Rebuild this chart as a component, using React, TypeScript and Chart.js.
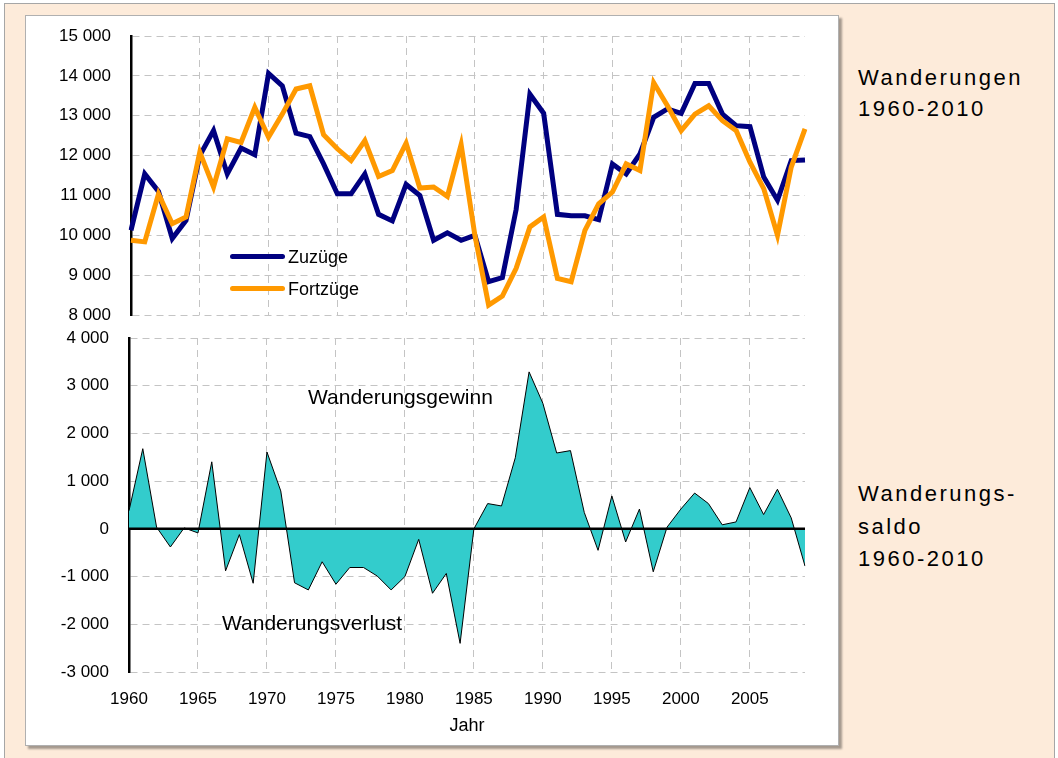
import React, { useEffect, useRef } from "react";
import { Chart, registerables } from "chart.js";

Chart.register(...registerables);

const years = [
  1960, 1961, 1962, 1963, 1964, 1965, 1966, 1967, 1968, 1969,
  1970, 1971, 1972, 1973, 1974, 1975, 1976, 1977, 1978, 1979,
  1980, 1981, 1982, 1983, 1984, 1985, 1986, 1987, 1988, 1989,
  1990, 1991, 1992, 1993, 1994, 1995, 1996, 1997, 1998, 1999,
  2000, 2001, 2002, 2003, 2004, 2005, 2006, 2007, 2008, 2009,
];

const zuzuege = [
  10125, 11540, 11100, 9920, 10375, 12000, 12625, 11540, 12190, 12020,
  14060, 13750, 12560, 12475, 11790, 11040, 11040, 11540, 10525, 10360,
  11275, 11000, 9875, 10060, 9875, 10000, 8835, 8940, 10650, 13540,
  13060, 10525, 10490, 10490, 10390, 11790, 11540, 12040, 12960, 13170,
  13060, 13810, 13810, 13040, 12750, 12725, 11460, 10880, 11875, 11890,
];

const fortzuege = [
  9875, 9835, 11040, 10290, 10460, 12085, 11210, 12420, 12330, 13210,
  12460, 13040, 13670, 13750, 12525, 12170, 11875, 12375, 11475, 11625,
  12310, 11185, 11210, 10975, 12275, 10000, 8250, 8475, 9170, 10210,
  10460, 8920, 8835, 10125, 10790, 11085, 11790, 11625, 13830, 13250,
  12625, 13040, 13250, 12875, 12625, 11835, 11170, 10000, 11710, 12670,
];

const saldo = [
  380, 1680, 35, -380, 20, -85, 1405, -880, -120, -1140,
  1610, 795, -1130, -1280, -690, -1160, -810, -810, -990, -1280,
  -1000, -220, -1350, -935, -2400, 0, 530, 480, 1490, 3290,
  2630, 1590, 1640, 345, -450, 690, -275, 415, -900, 35,
  415, 750, 530, 85, 145, 865, 300, 830, 230, -780,
];

const topTicks = { min: 8000, max: 15000, step: 1000 };
const bottomTicks = { min: -3000, max: 4000, step: 1000 };

const FONT = "'Liberation Sans', Arial, Helvetica, sans-serif";
const GRID = "#c4c4c4";
const DASH = [7, 5];
const CLEAR = "rgba(0,0,0,0)";

const fmt = (v: number) => {
  const s = Math.abs(v).toString().replace(/\B(?=(\d{3})+(?!\d))/g, " ");
  return (v < 0 ? "-" : "") + s;
};

const xGridColor = (ctx: any) =>
  years[ctx.index] !== undefined && years[ctx.index] % 5 === 0 && ctx.index !== 0 ? GRID : CLEAR;

const zeroLine = {
  id: "zeroLine",
  afterDatasetsDraw(chart: any) {
    const { ctx, chartArea, scales } = chart;
    const y = scales.y.getPixelForValue(0);
    ctx.save();
    ctx.strokeStyle = "#000";
    ctx.lineWidth = 2.5;
    ctx.beginPath();
    ctx.moveTo(chartArea.left, y);
    ctx.lineTo(chartArea.right, y);
    ctx.stroke();
    ctx.restore();
  },
};

function TopChart() {
  const ref = useRef<HTMLCanvasElement>(null);
  useEffect(() => {
    const chart = new Chart(ref.current!, {
      type: "line",
      data: {
        labels: years,
        datasets: [
          {
            label: "Zuzüge",
            data: zuzuege,
            borderColor: "#000080",
            borderWidth: 5,
            pointRadius: 0,
            pointHoverRadius: 0,
            fill: false,
            tension: 0,
            order: 2,
          },
          {
            label: "Fortzüge",
            data: fortzuege,
            borderColor: "#FF9900",
            borderWidth: 5,
            pointRadius: 0,
            pointHoverRadius: 0,
            fill: false,
            tension: 0,
            order: 1,
          },
        ],
      },
      options: {
        animation: false,
        responsive: false,
        events: [],
        layout: { padding: { top: 16, bottom: 15, right: 15, left: 0 } },
        plugins: { legend: { display: false }, tooltip: { enabled: false } },
        scales: {
          x: {
            type: "category",
            ticks: { display: false, autoSkip: false, padding: 0 },
            grid: { color: xGridColor, drawTicks: false, lineWidth: 1 },
            border: { display: false, dash: DASH },
            afterFit: (s: any) => {
              s.height = 0;
            },
          },
          y: {
            min: topTicks.min,
            max: topTicks.max,
            ticks: {
              stepSize: topTicks.step,
              callback: (v: any) => fmt(Number(v)),
              padding: 0,
              color: "#000",
              font: { size: 17, family: FONT },
            },
            grid: { color: GRID, drawTicks: true, tickLength: 20, tickColor: CLEAR, lineWidth: 1 },
            border: { display: true, color: "#000", width: 2.5, dash: DASH },
            afterFit: (s: any) => {
              s.width = 91;
            },
          },
        },
      },
    } as any);
    return () => chart.destroy();
  }, []);
  return <canvas ref={ref} width={780} height={310} style={{ width: 780, height: 310, display: "block" }} />;
}

function BottomChart() {
  const ref = useRef<HTMLCanvasElement>(null);
  useEffect(() => {
    const chart = new Chart(ref.current!, {
      type: "line",
      data: {
        labels: years,
        datasets: [
          {
            label: "Saldo",
            data: saldo,
            borderColor: "#000",
            borderWidth: 1,
            backgroundColor: "#33CCCC",
            fill: "origin",
            pointRadius: 0,
            pointHoverRadius: 0,
            tension: 0,
          },
        ],
      },
      options: {
        animation: false,
        responsive: false,
        events: [],
        layout: { padding: { top: 13, bottom: 0, right: 15, left: 0 } },
        plugins: { legend: { display: false }, tooltip: { enabled: false } },
        scales: {
          x: {
            type: "category",
            ticks: {
              autoSkip: false,
              maxRotation: 0,
              minRotation: 0,
              padding: 0,
              color: "#000",
              font: { size: 17, family: FONT },
              callback: (_v: any, i: number) => (years[i] % 5 === 0 ? String(years[i]) : ""),
            },
            grid: { color: xGridColor, drawTicks: true, tickLength: 17, tickColor: CLEAR, lineWidth: 1 },
            border: { display: false, dash: DASH },
            title: {
              display: true,
              text: "Jahr",
              color: "#000",
              font: { size: 18, family: FONT },
              padding: { top: 0, bottom: 8 },
            },
            afterFit: (s: any) => {
              s.height = 73;
            },
          },
          y: {
            min: bottomTicks.min,
            max: bottomTicks.max,
            ticks: {
              stepSize: bottomTicks.step,
              callback: (v: any) => fmt(Number(v)),
              padding: 0,
              color: "#000",
              font: { size: 17, family: FONT },
            },
            grid: {
              color: (ctx: any) => (ctx.tick && ctx.tick.value === 0 ? CLEAR : GRID),
              drawTicks: true,
              tickLength: 20,
              tickColor: CLEAR,
              lineWidth: 1,
            },
            border: { display: true, color: "#000", width: 2.5, dash: DASH },
            afterFit: (s: any) => {
              s.width = 89;
            },
          },
        },
      },
      plugins: [zeroLine],
    } as any);
    return () => chart.destroy();
  }, []);
  return <canvas ref={ref} width={780} height={420} style={{ width: 780, height: 420, display: "block" }} />;
}

const abs = (left: number, top: number, extra: React.CSSProperties = {}): React.CSSProperties => ({
  position: "absolute",
  left,
  top,
  ...extra,
});

export default function App() {
  return (
    <div
      style={{
        position: "fixed",
        left: 0,
        top: 0,
        width: 1058,
        height: 758,
        background: "#fff",
        overflow: "hidden",
        fontFamily: FONT,
        color: "#000",
      }}
    >
      <div
        style={abs(4, 3, {
          width: 1051,
          height: 760,
          background: "#FDEBDA",
          border: "1px solid #a6a6a6",
          boxSizing: "border-box",
        })}
      />
      <div
        style={abs(25, 15, {
          width: 814,
          height: 731,
          background: "#fff",
          border: "1px solid #b0b0b0",
          boxSizing: "border-box",
          boxShadow: "3px 3px 2px rgba(0,0,0,0.35)",
        })}
      />
      <div style={abs(40, 20)}>
        <TopChart />
      </div>
      <div style={abs(40, 325)}>
        <BottomChart />
      </div>

      {/* Legend */}
      <div style={abs(230, 254, { width: 55, height: 5, background: "#000080", borderRadius: 2.5 })} />
      <div style={abs(288, 247, { fontSize: 18, lineHeight: "20px", whiteSpace: "nowrap" })}>Zuzüge</div>
      <div style={abs(230, 286, { width: 55, height: 5, background: "#FF9900", borderRadius: 2.5 })} />
      <div style={abs(288, 279, { fontSize: 18, lineHeight: "20px", whiteSpace: "nowrap" })}>Fortzüge</div>

      {/* Annotations */}
      <div style={abs(308, 386, { fontSize: 21, lineHeight: "21px", whiteSpace: "nowrap" })}>Wanderungsgewinn</div>
      <div style={abs(222, 612, { fontSize: 21, lineHeight: "21px", whiteSpace: "nowrap" })}>Wanderungsverlust</div>

      {/* Side titles */}
      <div style={abs(858, 62, { fontSize: 22, lineHeight: "31px", letterSpacing: "2.5px", whiteSpace: "nowrap" })}>
        Wanderungen
        <br />
        1960-2010
      </div>
      <div style={abs(858, 478, { fontSize: 22, lineHeight: "32.5px", letterSpacing: "2.5px", whiteSpace: "nowrap" })}>
        Wanderungs-
        <br />
        saldo
        <br />
        1960-2010
      </div>
    </div>
  );
}
